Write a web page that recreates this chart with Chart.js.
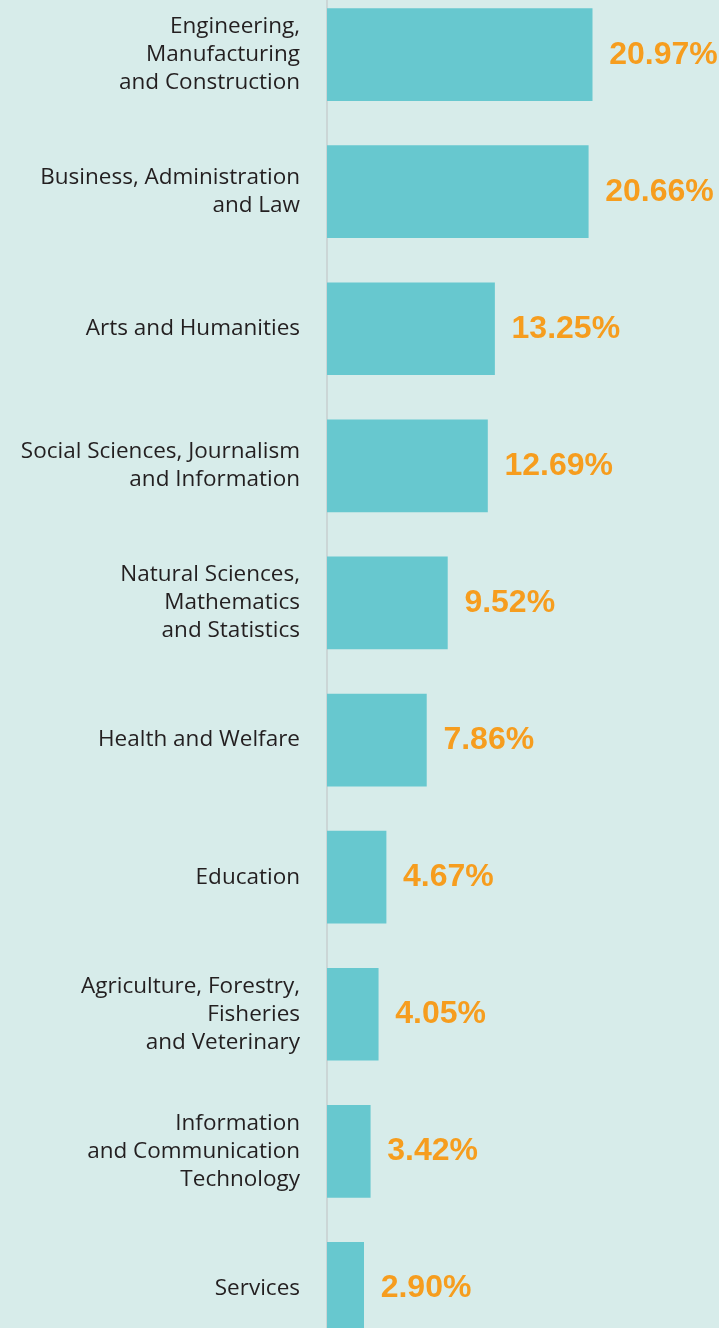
<!DOCTYPE html>
<html>
<head>
<meta charset="utf-8">
<script src="https://cdn.jsdelivr.net/npm/chart.js@4/dist/chart.umd.min.js"></script>
<style>
	html, body { margin: 0; padding: 0; background: #d7ecea; overflow: hidden; }
	#wrap { position: absolute; left: 0; top: -14px; width: 719px; height: 1371px; }
</style>
</head>
<body>
<div id="wrap"><canvas id="chart-fields"></canvas></div>
<script>
const CATEGORIES = [
	["Engineering,", "Manufacturing", "and Construction"],
	["Business, Administration", "and Law"],
	"Arts and Humanities",
	["Social Sciences, Journalism", "and Information"],
	["Natural Sciences,", "Mathematics", "and Statistics"],
	"Health and Welfare",
	"Education",
	["Agriculture, Forestry,", "Fisheries", "and Veterinary"],
	["Information", "and Communication", "Technology"],
	"Services",
];
const SHARES = [20.97, 20.66, 13.25, 12.69, 9.52, 7.86, 4.67, 4.05, 3.42, 2.9];
const X_MAX = 31;

const BAR_COLOR = "#67c8cf";
const VALUE_COLOR = "#f69d1e";

//--------------------------------------------
// Value labels at the end of each bar
//--------------------------------------------
const valueLabels = {
	id: "valueLabels",
	afterDatasetsDraw(chart) {
		const ctx = chart.ctx;
		const meta = chart.getDatasetMeta(0);
		ctx.save();
		ctx.font = "bold 32px 'Liberation Sans', Arial, sans-serif";
		ctx.fillStyle = VALUE_COLOR;
		ctx.textAlign = "left";
		ctx.textBaseline = "alphabetic";
		meta.data.forEach((bar, i) => {
			ctx.fillText(SHARES[i].toFixed(2) + "%", bar.x + 17, bar.y + 9);
		});
		ctx.restore();
	},
};

const CHART_CONFIG = {
	type: "bar",
	data: {
		labels: CATEGORIES,
		datasets: [
			{
				data: SHARES,
				backgroundColor: BAR_COLOR,
				hoverBackgroundColor: BAR_COLOR,
				borderWidth: 0,
				barThickness: 92,
			},
		],
	},
	options: {
		indexAxis: "y",
		responsive: true,
		maintainAspectRatio: false,
		animation: false,
		layout: { padding: 0 },
		scales: {
			x: {
				display: false,
				min: 0,
				max: X_MAX,
			},
			y: {
				grid: { display: false },
				border: { display: true, color: "#cbd6d6", width: 2 },
				afterFit: (scale) => {
					// fixed label column; no extra room for the first/last label
					scale.width = 327;
					scale.paddingTop = 0;
					scale.paddingBottom = 0;
				},
				ticks: {
					color: "#231f20",
					padding: 19,
					font: { family: "'Open Sans', 'Noto Sans', sans-serif", size: 22.5, lineHeight: 1.25 },
				},
			},
		},
		plugins: {
			legend: { display: false },
			title: { display: false },
			tooltip: { enabled: false },
		},
	},
	plugins: [valueLabels],
};

new Chart(document.getElementById("chart-fields"), CHART_CONFIG);
</script>
</body>
</html>
